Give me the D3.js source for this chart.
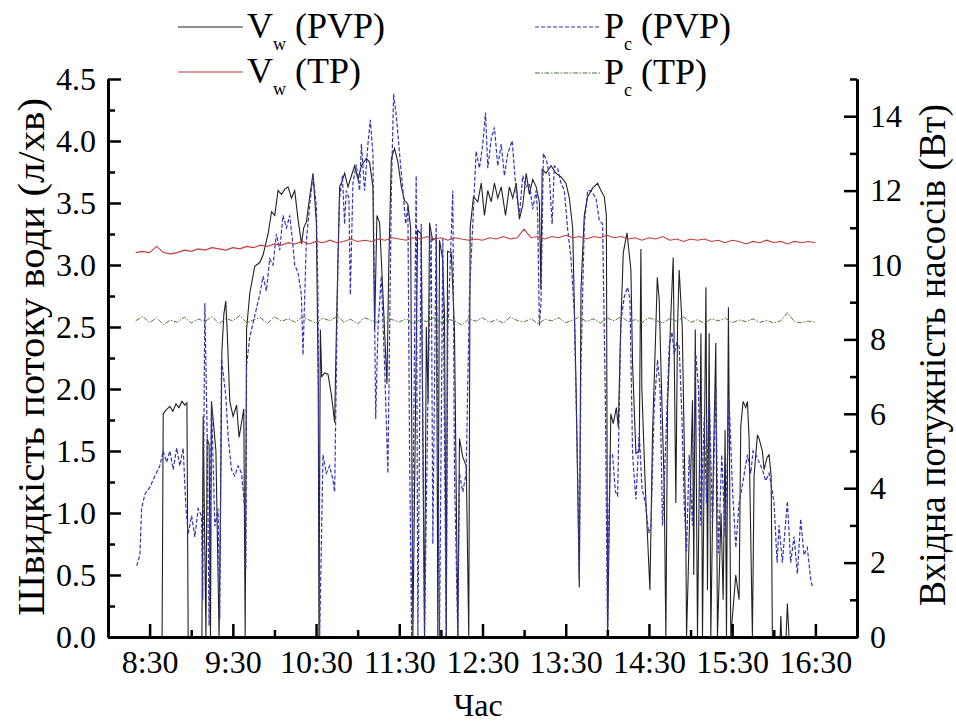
<!DOCTYPE html>
<html>
<head>
<meta charset="utf-8">
<script src="https://cdn.jsdelivr.net/npm/d3@7"></script>
<style>
  body { margin: 0; background: #fff; }
</style>
</head>
<body>
<svg width="956" height="724"></svg>
<script>
// time in minutes after 8:00
var vwPVP = [
  [21,0],[39,0],[39.8,1.8],[41.8,1.83],[44.6,1.86],[46.8,1.82],[49,1.88],[51.1,1.85],[53.3,1.9],[55.4,1.87],[56.9,1.89],[57.8,0],
  [67.7,0],[68.6,1.78],[70.6,0],[71.5,1.6],[72.9,1.55],[73.9,0],[74.6,1.9],[77.8,1.5],[80.1,0],[81.1,1.0],[82.1,2.3],[83.5,2.6],
  [84.9,2.71],[85.9,2.48],[87.8,1.9],[90.2,1.78],[92.7,1.87],[94.5,1.61],[96.3,1.73],[97.9,1.84],[98.9,0],[99.9,2.48],[102.2,2.77],
  [105.8,2.99],[109.4,3.02],[111.8,3.08],[115.4,3.25],[117.9,3.43],[120.2,3.4],[122.6,3.6],[125.1,3.57],[127.4,3.61],[129.8,3.63],
  [132.3,3.54],[134.6,3.6],[137,3.37],[139.5,3.17],[141.1,3.3],[143.1,3.35],[145.4,3.55],[147.8,3.74],[150.2,3.34],[151.6,2.0],
  [152.1,0],[153.1,2.48],[154.1,2.1],[156.2,2.13],[158.6,2.12],[161.1,1.95],[163.4,1.73],[164.7,2.5],[167,3.63],[168.2,3.66],
  [170.6,3.74],[173,3.63],[175.5,3.72],[177.8,3.8],[180.2,3.69],[182.7,3.8],[186.3,3.86],[188.6,3.83],[191,3.63],[192.2,2.48],
  [193.9,3.4],[195.8,3.34],[198.2,2.77],[201.1,2.04],[202.5,3.05],[204.3,3.86],[206.6,3.94],[209,3.83],[211.5,3.63],[213.8,3.52],
  [216.2,3.49],[218.2,3.3],[219.8,0],[223.2,3.28],[225.8,3.25],[228.2,0],[229.5,2.5],[230.8,1.9],[231.8,3.34],[234,3.2],[236.7,3.22],
  [237.8,0],[239,3.2],[241.2,3.05],[242.6,2.6],[243.9,0],[244.8,3.11],[247.5,3.1],[249.8,2.48],[252.2,0],[253.4,1.6],[255.8,1.45],
  [258.3,1.38],[260.1,0],[261.1,3.3],[263.5,3.55],[266.6,3.51],[269.1,3.66],[271.4,3.4],[273.8,3.6],[276.3,3.51],[278.6,3.66],
  [281,3.54],[283.5,3.63],[286.6,3.4],[289.4,3.63],[291.8,3.54],[294.3,3.66],[296.6,3.37],[299,3.48],[301.5,3.74],[303.8,3.57],
  [306.2,3.69],[308.7,3.63],[311,3.51],[312.1,2.8],[313,3.77],[315.8,3.74],[319.4,3.8],[323,3.74],[326.6,3.71],[330.2,3.66],
  [332.6,3.54],[335,3.3],[337.5,2.0],[339.8,0.4],[341,2.8],[343.4,3.4],[345.8,3.55],[349.4,3.62],[353,3.66],[355.4,3.6],[357.8,3.55],
  [359.3,3.4],[360.2,0],[362.5,1.8],[364.3,1.72],[366.5,1.85],[367.9,1.69],[369.4,2.4],[371.5,3.1],[374.2,3.26],[377,2.96],[378.2,2.2],
  [380.6,1.48],[383,1.5],[384.2,3.13],[384.9,2.0],[387.4,1.2],[390.7,0.38],[392.6,1.65],[395,2.5],[396,2.9],[397.4,2.72],[398.6,2.2],
  [401,1.21],[402.2,0],[403.4,1.86],[405.8,2.6],[407.5,3.06],[409.4,1.08],[410.6,2.5],[411.8,2.96],[414,2.5],[416.6,0.8],[417.1,0],
  [419,0.8],[421.4,1.91],[422.3,0.5],[423.4,2.48],[425,0],[427.5,2.45],[428.6,0],[431.1,2.82],[432.2,0.38],[433.4,2.45],[434.6,0],
  [436.3,1.3],[438.2,2.37],[439.4,0],[442,1.0],[443.5,0.3],[444.9,1.67],[445.9,0],[447.3,2.66],[449,0],[452.6,0.5],[455,0.3],
  [456.2,1.7],[457.9,1.9],[459.8,1.85],[461,1.9],[462.2,1.6],[464.6,0],[465.8,1.3],[468.2,1.63],[469.4,1.6],[471.8,1.5],[473,1.35],
  [475.2,1.45],[476.6,1.47],[478.1,1.3],[479,0],[484.6,0],[485.1,0.17],[485.6,0],[488.9,0],[489.8,0.27],[491,0],[509,0]
];

var pcPVP = [
  [20.7,1.91],[23,2.2],[24.2,3.45],[26.6,3.84],[30.2,4.03],[33.8,4.33],[37.4,4.6],[39.8,5.0],[42.3,4.7],[44.6,5.0],[47,4.5],
  [49.5,5.08],[51.8,4.6],[54.2,5.08],[56.2,3.45],[57.8,2.78],[60.3,3.26],[62.6,2.69],[65,3.45],[67.4,3.26],[68.3,1.0],[69.8,8.98],
  [71.5,5.4],[72.9,0.3],[74.6,6.34],[77,2.98],[79.4,3.45],[80.6,0.5],[81.8,7.48],[83,7.1],[84.9,6.5],[86.6,5.4],[89,4.5],[91.4,4.33],
  [93.8,4.6],[96.3,4.4],[98.6,3.45],[99.4,1.8],[99.9,7.3],[102.2,8.06],[104.6,8.44],[107,8.83],[109.4,9.2],[111.8,9.7],[114.2,9.3],
  [116.6,10.17],[119,10.0],[121.4,10.84],[123.8,10.4],[126.2,11.33],[128.7,11.0],[131,11.33],[132.9,10.7],[134.6,10.0],[137,9.8],
  [139.4,9.2],[140.6,7.58],[143,10.65],[145.4,11.6],[147.8,12.4],[150.2,11.6],[151.4,9.2],[152.6,0],[155,4.9],[157.4,4.4],[159.8,4.6],
  [162.2,4.22],[163.4,3.9],[165.8,10.17],[167,11.8],[169,12.4],[170.6,11.1],[171.8,12.0],[173.7,11.8],[174.7,9.2],[176.6,12.2],
  [179,12.7],[181.4,12.0],[182.7,13.25],[185,12.0],[187.4,13.25],[189.1,13.9],[191,13.0],[193,5.86],[194.6,8.25],[197,9.7],
  [199.4,7.3],[201.8,4.4],[204.3,12.0],[205.9,14.6],[207.9,14.0],[210.2,13.0],[212.6,12.0],[214.6,11.1],[216.2,11.6],[217.4,5.0],
  [218.9,0],[222.2,12.4],[223.4,0],[225.8,11.1],[228.2,0],[230.6,6.3],[233,10.9],[234.2,2.5],[236.6,11.1],[239,0],[241.4,10.7],
  [243.8,0],[245,8.25],[248.6,12.0],[249.8,4.4],[252.2,0],[253.4,4.4],[255.8,3.9],[258.2,4.4],[260.6,9.2],[263,11.1],[265.4,13.06],
  [267.8,12.6],[270.2,13.25],[272.2,14.1],[273.8,12.6],[276.3,13.4],[278.6,13.7],[281,12.66],[283.5,13.25],[285.8,12.4],[288.2,13.0],
  [291.4,13.34],[294.2,12.0],[296.6,11.33],[299,12.4],[301.5,12.1],[303.8,12.2],[306.2,11.5],[308.7,12.0],[309.8,11.3],[311,8.36],
  [312.2,9.0],[313.9,13.0],[316.3,12.8],[318.2,12.4],[320.2,11.1],[321.8,12.66],[324.2,12.6],[326.6,12.2],[329,12.0],[331.4,10.96],
  [333.8,10.17],[336.2,8.7],[338.6,4.4],[339.8,1.53],[341,7.3],[343.4,11.1],[345.8,12.0],[348.2,12.0],[351.8,11.8],[354.2,11.2],
  [356.6,11.1],[358.6,6.3],[360.2,0],[361,3.0],[362.2,4.9],[363.8,4.9],[365.8,3.9],[367.4,3.8],[369.8,8.5],[372.2,9.14],[374.6,9.4],
  [376.3,9.1],[378.2,4.9],[380.6,3.7],[383,5.48],[385,4.0],[387.4,3.6],[389.8,2.8],[391.5,3.0],[393.8,6.2],[396.2,7.45],[398,6.7],
  [399.8,3.0],[402.2,5.3],[404.6,7.8],[406.6,8.2],[408.2,7.6],[409.9,7.9],[411.8,7.8],[413.8,5.9],[415.4,3.6],[417.1,2.3],[419,4.9],
  [421.4,3.0],[423.8,7.6],[425.7,6.7],[427.4,3.0],[429.8,5.9],[431.5,3.6],[433.4,6.7],[435.8,3.0],[438.2,6.7],[440.1,2.25],[442.5,4.9],
  [444.9,2.7],[447.8,6.37],[450.2,4.0],[452.6,2.4],[455,3.6],[457.9,4.2],[461,4.9],[463.4,4.4],[465.1,5.0],[467,4.9],[469.4,4.7],
  [471.8,4.5],[474.2,4.2],[476.6,4.4],[479,3.9],[480.2,3.6],[482.4,2.0],[483.8,3.0],[486.2,2.0],[489.8,3.65],[492.2,2.0],[494.6,2.7],
  [497,1.7],[499.4,3.17],[501.8,2.2],[504.2,2.4],[506.6,1.55],[507.8,1.35]
];

var vwTP = [
  [20,3.10],[25,3.11],[30,3.10],[35,3.15],[40,3.10],[45,3.09],[50,3.10],[55,3.12],[60,3.11],[65,3.13],[70,3.12],[75,3.14],
  [80,3.13],[85,3.12],[90,3.14],[95,3.13],[100,3.15],[105,3.14],[110,3.16],[115,3.15],[120,3.17],[125,3.16],[130,3.18],[135,3.17],
  [140,3.19],[145,3.17],[150,3.19],[155,3.18],[160,3.20],[165,3.18],[170,3.19],[175,3.21],[180,3.19],[185,3.20],[190,3.19],[195,3.21],
  [200,3.20],[205,3.22],[210,3.21],[215,3.20],[220,3.22],[225,3.21],[230,3.23],[235,3.21],[240,3.22],[245,3.20],[250,3.22],[255,3.21],
  [260,3.20],[265,3.21],[270,3.20],[275,3.22],[280,3.21],[285,3.23],[290,3.21],[295,3.22],[300,3.29],[305,3.22],[310,3.23],[315,3.21],
  [320,3.23],[325,3.22],[330,3.24],[335,3.22],[340,3.23],[345,3.21],[350,3.23],[355,3.22],[360,3.24],[365,3.22],[370,3.23],[375,3.21],
  [380,3.22],[385,3.20],[390,3.22],[395,3.21],[400,3.23],[405,3.20],[410,3.21],[415,3.19],[420,3.21],[425,3.20],[430,3.21],[435,3.19],
  [440,3.20],[445,3.18],[450,3.20],[455,3.19],[460,3.17],[465,3.19],[470,3.18],[475,3.20],[480,3.18],[485,3.19],[490,3.17],[495,3.19],
  [500,3.18],[505,3.19],[510,3.18]
];

var pcTP = [
  [20,8.50],[25,8.62],[30,8.45],[35,8.58],[40,8.40],[45,8.52],[50,8.46],[55,8.60],[60,8.44],[65,8.55],[70,8.48],[75,8.62],
  [80,8.42],[85,8.56],[90,8.50],[95,8.64],[100,8.45],[105,8.53],[110,8.58],[115,8.43],[120,8.61],[125,8.49],[130,8.55],[135,8.46],
  [140,8.60],[145,8.52],[150,8.44],[155,8.57],[160,8.50],[165,8.62],[170,8.47],[175,8.54],[180,8.42],[185,8.58],[190,8.51],[195,8.45],
  [200,8.60],[205,8.53],[210,8.47],[215,8.56],[220,8.43],[225,8.52],[230,8.48],[235,8.59],[240,8.45],[245,8.54],[250,8.50],[255,8.38],
  [260,8.55],[265,8.49],[270,8.58],[275,8.46],[280,8.53],[285,8.44],[290,8.60],[295,8.51],[300,8.47],[305,8.56],[310,8.42],[315,8.54],
  [320,8.50],[325,8.58],[330,8.45],[335,8.52],[340,8.60],[345,8.48],[350,8.55],[355,8.44],[360,8.57],[365,8.50],[370,8.62],[375,8.47],
  [380,8.53],[385,8.45],[390,8.58],[395,8.51],[400,8.44],[405,8.56],[410,8.49],[415,8.60],[420,8.46],[425,8.53],[430,8.43],[435,8.55],
  [440,8.50],[445,8.57],[450,8.45],[455,8.52],[460,8.48],[465,8.55],[470,8.46],[475,8.51],[480,8.44],[485,8.50],[490,8.72],[495,8.47],
  [500,8.45],[505,8.49],[510,8.46]
];

var timeTicks = [30, 90, 150, 210, 270, 330, 390, 450, 510];
var timeLabels = ['8:30', '9:30', '10:30', '11:30', '12:30', '13:30', '14:30', '15:30', '16:30'];
var leftTicks = [0, 0.5, 1, 1.5, 2, 2.5, 3, 3.5, 4, 4.5];
var rightTicks = [0, 2, 4, 6, 8, 10, 12, 14];

var FONT = "'Liberation Serif'";

var svg = d3.select('svg');
svg.append('rect').attr('width', 956).attr('height', 724).attr('fill', '#fff');

var plot = {l: 108, r: 857, t: 79, b: 637};

var x = d3.scaleLinear().domain([0, 540]).range([plot.l, plot.r]);
var yL = d3.scaleLinear().domain([0, 4.5]).range([plot.b, plot.t]);
var yR = d3.scaleLinear().domain([0, 15]).range([plot.b, plot.t]);

var lineL = d3.line().x(d => x(d[0])).y(d => yL(d[1]));
var lineR = d3.line().x(d => x(d[0])).y(d => yR(d[1]));

var lines = svg.append('g').attr('fill', 'none');

lines.append('path').datum(vwPVP)
  .attr('d', lineL).attr('stroke', '#222').attr('stroke-width', 1.1);

lines.append('path').datum(pcPVP)
  .attr('d', lineR).attr('stroke', '#3434b4').attr('stroke-width', 1.2)
  .attr('stroke-dasharray', '4,2');

lines.append('path').datum(vwTP)
  .attr('d', lineL).attr('stroke', '#c43a3a').attr('stroke-width', 1.1);

lines.append('path').datum(pcTP)
  .attr('d', lineR).attr('stroke', '#4d7a3a').attr('stroke-width', 1)
  .attr('stroke-dasharray', '5,1.5,1.5,1.5');

// axes
function styleAxis(g) {
  g.attr('font-family', FONT).attr('font-size', 32);
  g.select('.domain').attr('stroke', '#000').attr('stroke-width', 3);
  g.selectAll('.tick line').attr('stroke', '#000').attr('stroke-width', 2.5);
  g.selectAll('.tick text').attr('fill', '#000');
}

var xMinor = timeTicks.map(d => d + 30).filter(d => d < 540);

svg.append('g').attr('transform', 'translate(0,' + plot.b + ')')
  .call(d3.axisBottom(x).tickValues(xMinor).tickSize(-7).tickSizeOuter(0).tickFormat(''))
  .call(styleAxis);

svg.append('g').attr('transform', 'translate(0,' + plot.b + ')')
  .call(d3.axisBottom(x).tickValues(timeTicks).tickSize(-13).tickSizeOuter(0).tickPadding(13)
    .tickFormat((d, i) => timeLabels[i]))
  .call(styleAxis);

var leftMinor = leftTicks.map(d => d + 0.25).filter(d => d < 4.5);

svg.append('g').attr('transform', 'translate(' + plot.l + ',0)')
  .call(d3.axisLeft(yL).tickValues(leftMinor).tickSize(-7).tickSizeOuter(0).tickFormat(''))
  .call(styleAxis);

svg.append('g').attr('transform', 'translate(' + plot.l + ',0)')
  .call(d3.axisLeft(yL).tickValues(leftTicks).tickSize(-13).tickSizeOuter(0).tickPadding(12)
    .tickFormat(d3.format('.1f')))
  .call(styleAxis);

var rightMinor = rightTicks.map(d => d + 1);

svg.append('g').attr('transform', 'translate(' + plot.r + ',0)')
  .call(d3.axisRight(yR).tickValues(rightMinor).tickSize(-7).tickSizeOuter(0).tickFormat(''))
  .call(styleAxis);

svg.append('g').attr('transform', 'translate(' + plot.r + ',0)')
  .call(d3.axisRight(yR).tickValues(rightTicks).tickSize(-13).tickSizeOuter(0).tickPadding(13))
  .call(styleAxis);

// axis titles
svg.append('text')
  .attr('transform', 'translate(44,357) rotate(-90)')
  .attr('text-anchor', 'middle').attr('font-family', FONT).attr('font-size', 38)
  .attr('textLength', 518).attr('lengthAdjust', 'spacingAndGlyphs')
  .text('Швидкість потоку води (л/хв)');

svg.append('text')
  .attr('transform', 'translate(945,355) rotate(-90)')
  .attr('text-anchor', 'middle').attr('font-family', FONT).attr('font-size', 38)
  .attr('textLength', 502).attr('lengthAdjust', 'spacingAndGlyphs')
  .text('Вхідна потужність насосів (Вт)');

svg.append('text')
  .attr('x', 478).attr('y', 716)
  .attr('text-anchor', 'middle').attr('font-family', FONT).attr('font-size', 32)
  .text('Час');

// legend
var legendItems = [
  {x: 178, y: 27, main: 'V', sub: 'w', tail: ' (PVP)', stroke: '#222', dash: null},
  {x: 178, y: 72, main: 'V', sub: 'w', tail: ' (TP)', stroke: '#c43a3a', dash: null},
  {x: 535, y: 27, main: 'P', sub: 'c', tail: ' (PVP)', stroke: '#3434b4', dash: '4,2'},
  {x: 535, y: 73, main: 'P', sub: 'c', tail: ' (TP)', stroke: '#4d7a3a', dash: '5,1.5,1.5,1.5'}
];

var legend = svg.append('g').attr('font-family', FONT);

legend.selectAll('line')
  .data(legendItems)
  .join('line')
  .attr('x1', d => d.x).attr('x2', d => d.x + 65)
  .attr('y1', d => d.y).attr('y2', d => d.y)
  .attr('stroke', d => d.stroke).attr('stroke-width', 1.2)
  .attr('stroke-dasharray', d => d.dash);

var legendText = legend.selectAll('text')
  .data(legendItems)
  .join('text')
  .attr('x', d => d.x + 69).attr('y', d => d.y + 11)
  .attr('font-size', 36);

legendText.append('tspan').text(d => d.main);
legendText.append('tspan').attr('dy', 12).attr('font-size', 18).text(d => d.sub);
legendText.append('tspan').attr('dy', -12).attr('font-size', 36)
  .attr('xml:space', 'preserve').text(d => d.tail);
</script>
</body>
</html>
